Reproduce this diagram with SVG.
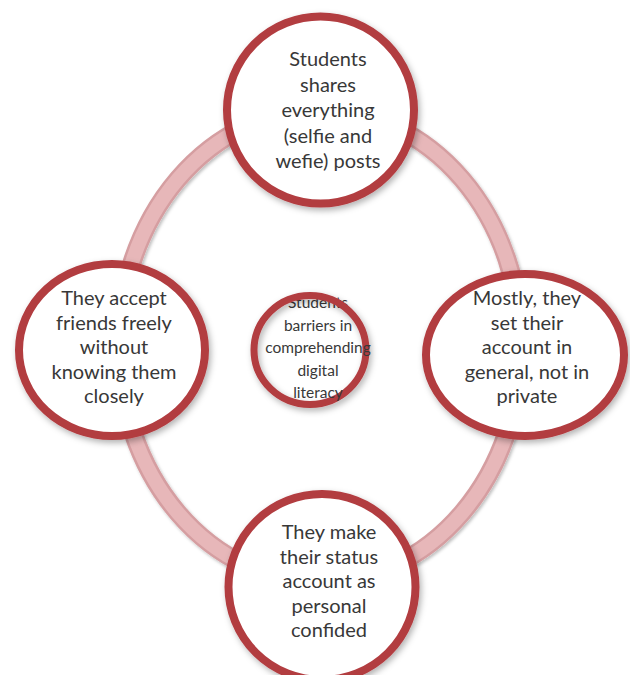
<svg xmlns="http://www.w3.org/2000/svg" width="630" height="675" viewBox="0 0 630 675">
<defs>
  <filter id="shadow" x="-20%" y="-20%" width="140%" height="140%">
    <feDropShadow dx="2" dy="3" stdDeviation="3" flood-color="#000" flood-opacity="0.3"/>
  </filter>
  <filter id="ringshadow" x="-10%" y="-10%" width="120%" height="120%">
    <feDropShadow dx="1.5" dy="2" stdDeviation="1.5" flood-color="#000" flood-opacity="0.25"/>
  </filter>
  <style>
    .node { fill: #ffffff; stroke: #B23C40; stroke-width: 8; filter: url(#shadow); }
    .center { fill: #ffffff; stroke: #B23C40; stroke-width: 7; filter: url(#shadow); }
    .label { font-family: Lato, "Open Sans", "Liberation Sans", sans-serif; font-size: 20px; fill: #383838; text-anchor: middle; }
    .small { font-size: 15.5px; }
  </style>
</defs>
<rect x="0" y="0" width="630" height="675" fill="#ffffff"/>
<g id="connectors">
  <ellipse cx="320" cy="346" rx="201" ry="236" fill="none" stroke="#D59EA1" stroke-width="19" filter="url(#ringshadow)"/>
  <ellipse cx="320" cy="346" rx="201" ry="236" fill="none" stroke="#E7B7B9" stroke-width="14"/>
</g>
<g id="node-top">
  <ellipse class="node" cx="320.5" cy="110" rx="93.5" ry="93.5"/>
  <text class="label" x="328" y="66">Students</text>
  <text class="label" x="328" y="91.5">shares</text>
  <text class="label" x="328" y="117">everything</text>
  <text class="label" x="328" y="142.5">(selfie and</text>
  <text class="label" x="328" y="168">wefie) posts</text>
</g>
<g id="node-left">
  <ellipse class="node" cx="112" cy="350" rx="93" ry="86"/>
  <text class="label" x="114" y="305">They accept</text>
  <text class="label" x="114" y="329.5">friends freely</text>
  <text class="label" x="114" y="354">without</text>
  <text class="label" x="114" y="378.5">knowing them</text>
  <text class="label" x="114" y="403">closely</text>
</g>
<g id="node-right">
  <ellipse class="node" cx="525" cy="355" rx="99" ry="81"/>
  <text class="label" x="527" y="305">Mostly, they</text>
  <text class="label" x="527" y="329.5">set their</text>
  <text class="label" x="527" y="354">account in</text>
  <text class="label" x="527" y="378.5">general, not in</text>
  <text class="label" x="527" y="403">private</text>
</g>
<g id="node-bottom">
  <ellipse class="node" cx="322" cy="587" rx="93.5" ry="93"/>
  <text class="label" x="329" y="539">They make</text>
  <text class="label" x="329" y="563.5">their status</text>
  <text class="label" x="329" y="588">account as</text>
  <text class="label" x="329" y="612.5">personal</text>
  <text class="label" x="329" y="637">confided</text>
</g>
<g id="node-center">
  <text class="label small" x="318" y="308">Students</text>
  <ellipse class="center" cx="310" cy="350" rx="56" ry="54.5" fill-opacity="0"/>
  <text class="label small" x="318" y="330.5">barriers in</text>
  <text class="label small" x="318" y="353">comprehending</text>
  <text class="label small" x="318" y="375.5">digital</text>
  <text class="label small" x="318" y="398">literacy</text>
</g>
</svg>
